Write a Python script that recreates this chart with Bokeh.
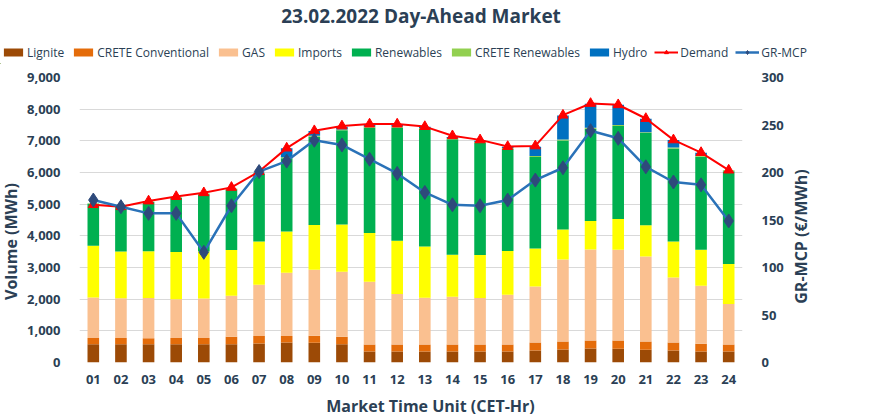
from math import pi
from bokeh.plotting import figure
from bokeh.layouts import column, row
from bokeh.models import (FactorRange, Range1d, LinearAxis, Legend, LegendItem, Label,
                          SingleIntervalTicker, NumeralTickFormatter, ColumnDataSource)
from bokeh.embed import file_html
from bokeh.resources import INLINE

hours = ["01", "02", "03", "04", "05", "06", "07", "08", "09", "10", "11", "12",
         "13", "14", "15", "16", "17", "18", "19", "20", "21", "22", "23", "24"]
lignite = [580, 580, 580, 580, 580, 580, 600, 630, 625, 580, 350, 350,
           350, 350, 350, 350, 380, 410, 440, 435, 400, 380, 350, 350]
crete_conv = [190, 190, 185, 190, 190, 230, 233, 205, 218, 230, 220, 220,
              220, 220, 220, 220, 252, 252, 253, 262, 262, 252, 242, 220]
gas = [1280, 1260, 1270, 1230, 1250, 1295, 1620, 2000, 2085, 2055, 1980, 1590,
       1475, 1505, 1465, 1570, 1770, 2590, 2875, 2865, 2685, 2055, 1830, 1275]
imports = [1635, 1475, 1475, 1490, 1485, 1445, 1367, 1305, 1411, 1494, 1537, 1683,
           1621, 1325, 1357, 1379, 1200, 948, 897, 970, 991, 1135, 1136, 1264]
renewables = [1325, 1410, 1555, 1710, 1812, 1925, 2130, 2313, 2789, 2972, 3335, 3577,
              3706, 3653, 3538, 3221, 2890, 2810, 2915, 2937, 2907, 2937, 2937, 2933]
crete_ren = [20, 20, 20, 20, 20, 20, 25, 30, 30, 30, 30, 30,
             30, 30, 30, 30, 30, 30, 30, 30, 30, 30, 30, 30]
hydro = [0, 0, 0, 0, 0, 0, 20, 280, 150, 80, 50, 50,
         40, 40, 40, 40, 290, 760, 760, 640, 420, 240, 100, 0]
demand = [4985, 4920, 5100, 5240, 5360, 5530, 6030, 6770, 7320, 7470, 7530, 7530,
          7450, 7160, 7030, 6820, 6840, 7810, 8180, 8140, 7705, 7030, 6630, 6075]
mcp = [171, 164, 157, 157, 116, 165, 201, 212, 234, 229, 214, 199,
       179, 166, 165, 171, 192, 205, 244, 236, 206, 190, 187, 149]

series_names = ["Lignite", "CRETE Conventional", "GAS", "Imports", "Renewables",
                "CRETE Renewables", "Hydro"]
series_vals = [lignite, crete_conv, gas, imports, renewables, crete_ren, hydro]
series_colors = ["#9C4A06", "#E46C0A", "#FAC090", "#FFFF00", "#00B050", "#92D050", "#0070C0"]
title_text = "23.02.2022  Day-Ahead Market"
x_title = "Market Time Unit (CET-Hr)"
y_title = "Volume (MWh)"
y2_title = "GR-MCP (€/MWh)"

TXT = "#2B3F55"
FONT = "Open Sans"
RED = "#FF0000"
MCP_LINE = "#2A72B8"
MCP_MARK = "#2E4A7B"
W = 868
MAIN_H = 326


def blank(w, h):
    f = figure(width=w, height=h, x_range=Range1d(0, w), y_range=Range1d(0, h),
               output_backend="svg", toolbar_location=None, min_border=0)
    if "frame_align" in f.properties():
        f.frame_align = False
    f.axis.visible = False
    f.grid.visible = False
    f.outline_line_color = None
    return f


def text(f, s, x, y, size, angle=0.0):
    f.add_layout(Label(x=x, y=y, text=s, angle=angle, text_align="center",
                       text_baseline="middle", text_font=FONT, text_font_style="bold",
                       text_font_size=size, text_color=TXT))


# ---------------- header: title + legend ----------------
HH = 64
head = blank(W, HH)
text(head, title_text, 423, HH - 15, "19px")
items = []
for n, c in zip(series_names, series_colors):
    r = head.vbar(x=[-1000], top=[1], width=1, color=c, line_color=None)
    items.append(LegendItem(label=n, renderers=[r]))
l1 = head.line([-1000, -999], [1, 1], color=RED, line_width=2)
s1 = head.scatter([-1000], [1], marker="triangle", size=10, color=RED)
items.append(LegendItem(label="Demand", renderers=[l1, s1]))
l2 = head.line([-1000, -999], [1, 1], color=MCP_LINE, line_width=2.5)
s2 = head.scatter([-1000], [1], marker="diamond", size=12, fill_color=MCP_MARK,
                  line_color=MCP_MARK)
items.append(LegendItem(label="GR-MCP", renderers=[l2, s2]))
legend = Legend(items=items, orientation="horizontal", location=(1, 3),
                padding=0, margin=0, spacing=7, label_standoff=2,
                glyph_width=24, glyph_height=10, label_height=18,
                label_text_font=FONT, label_text_font_size="12px",
                label_text_color=TXT, border_line_color=None,
                background_fill_alpha=0)
head.add_layout(legend)

# ---------------- side strips with axis titles ----------------
LW, RW = 24, 82
lstrip = blank(LW, MAIN_H)
text(lstrip, y_title, 10, MAIN_H - 177, "16px", pi / 2)
rstrip = blank(RW, MAIN_H)
text(rstrip, y2_title, 14, MAIN_H - 172, "16px", pi / 2)

# ---------------- main chart ----------------
MW = W - LW - RW
data = {"hour": hours}
for n, v in zip(series_names, series_vals):
    data[n] = v
src = ColumnDataSource(data)

p = figure(x_range=FactorRange(factors=hours, range_padding=0), y_range=Range1d(0, 9000),
           width=MW, height=MAIN_H, output_backend="svg", toolbar_location=None,
           min_border_left=79 - LW, min_border_right=LW + MW - 743, min_border_top=13,
           min_border_bottom=28)
if "frame_align" in p.properties():
    p.frame_align = False
p.outline_line_color = None

bars = p.vbar_stack(series_names, x="hour", width=0.42, color=series_colors,
                    line_color=None, source=src)

p.extra_y_ranges = {"mcp": Range1d(0, 300)}
p.line(hours, demand, color=RED, line_width=2)
p.scatter(hours, demand, marker="triangle", size=10, color=RED)
p.line(hours, mcp, y_range_name="mcp", color=MCP_LINE, line_width=2.5)
p.scatter(hours, mcp, y_range_name="mcp", marker="diamond", size=14,
          fill_color=MCP_MARK, line_color=MCP_MARK)

p.yaxis.ticker = SingleIntervalTicker(interval=1000)
p.yaxis.formatter = NumeralTickFormatter(format="0,0")
right = LinearAxis(y_range_name="mcp", ticker=SingleIntervalTicker(interval=50))
p.add_layout(right, "right")

for ax in [p.xaxis[0], p.yaxis[0], right]:
    ax.axis_line_color = None
    ax.major_tick_line_color = None
    ax.minor_tick_line_color = None
    ax.major_label_text_font = FONT
    ax.major_label_text_font_style = "bold"
    ax.major_label_text_font_size = "13px"
    ax.major_label_text_color = TXT
p.yaxis[0].major_label_standoff = 13
right.major_label_standoff = 13
p.xaxis[0].major_label_standoff = 6

p.xgrid.grid_line_color = None
p.ygrid.grid_line_color = "#D9D9D9"
p.ygrid.grid_line_width = 1

# ---------------- footer with x-axis title ----------------
FH = 27
foot = blank(W, FH)
text(foot, x_title, 430, FH - 15, "16px")

layout = column(head, row(lstrip, p, rstrip, spacing=0), foot, spacing=0)
open("out.html", "w").write(file_html(layout, INLINE))
